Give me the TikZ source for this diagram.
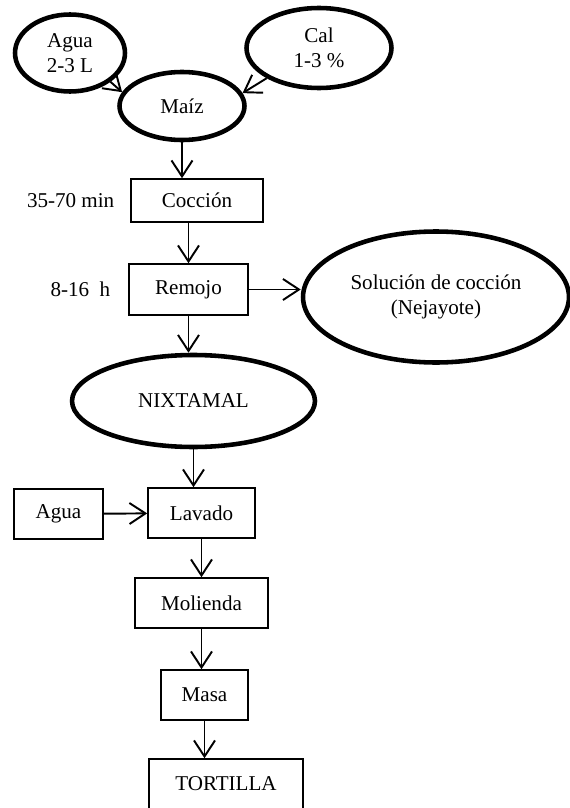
\documentclass[tikz,border=0pt]{standalone}
\usepackage{fontspec}
\setmainfont{Liberation Serif}
\usetikzlibrary{arrows.meta, shapes.geometric, positioning}

\begin{document}
\begin{tikzpicture}[->,>={Straight Barb[length=0.32cm,width=0.42cm]}, x=0.02cm, y=-0.02cm, line width=1.1pt]
    \tikzstyle{every node}=[font=\fontsize{12}{14}\selectfont, align=center, inner sep=0pt]
    \tikzstyle{oval}=[shape=ellipse, draw=black, line width=2.6pt, text=black]
    \tikzstyle{caja}=[shape=rectangle, draw=black, line width=0.9pt, text=black, minimum height=1cm]
    \tikzstyle{etiqueta}=[shape=rectangle, draw=none, text=black]

    \useasboundingbox (0,0) rectangle (570,808);

    \node[oval, minimum width=2.2cm, minimum height=1.54cm]  (agua) at (70,53)    {Agua\\2-3 L};
    \node[oval, minimum width=2.9cm, minimum height=1.6cm]   (cal) at (319,48)    {Cal\\1-3 \%};
    \node[oval, minimum width=2.5cm, minimum height=1.36cm]  (maiz) at (182,106)  {Maíz};
    \node[caja, minimum width=2.64cm, minimum height=0.86cm] (coccion) at (197,200.5) {Cocción};
    \node[caja, minimum width=2.38cm, minimum height=1.02cm] (remojo) at (188.5,289.5) {Remojo};
    \node[oval, minimum width=5.32cm, minimum height=2.62cm] (solucion) at (436,297) {Solución de cocción\\(Nejayote)};
    \node[oval, minimum width=4.86cm, minimum height=1.84cm] (nixtamal) at (193.5,401) {NIXTAMAL};
    \node[caja, minimum width=1.78cm]  (aguab) at (58.5,514)    {Agua};
    \node[caja, minimum width=2.14cm]  (lavado) at (201.5,513)  {Lavado};
    \node[caja, minimum width=2.66cm]  (molienda) at (201.5,603) {Molienda};
    \node[caja, minimum width=1.74cm]  (masa) at (204.5,695)    {Masa};
    \node[caja, minimum width=3.08cm]  (tortilla) at (226,784)  {TORTILLA};

    \node[etiqueta, left=0.3cm of coccion]  (tcoccion) {35-70 min};
    \node[etiqueta, left=0.34cm of remojo]  (tremojo) {8-16~~h};

    \path
    (agua.south east)         edge[->]  node{} (maiz.167)
    (cal.210)                 edge[->]  node{} (maiz.12)
    (maiz)                    edge[->]  node{} (maiz |- coccion.north)
    (coccion.south -| remojo) edge[->]  node{} (remojo)
    (remojo)                  edge[->]  node{} (remojo -| solucion.west)
    (remojo)                  edge[->]  node{} (remojo |- nixtamal.north)
    (nixtamal)                edge[->]  node{} (nixtamal |- lavado.north)
    (aguab)                   edge[->]  node{} (lavado)
    (lavado)                  edge[->]  node{} (lavado |- molienda.north)
    (molienda)                edge[->]  node{} (molienda |- masa.north)
    (masa)                    edge[->]  node{} (masa |- tortilla.north)
            ;

\end{tikzpicture}
\end{document}
